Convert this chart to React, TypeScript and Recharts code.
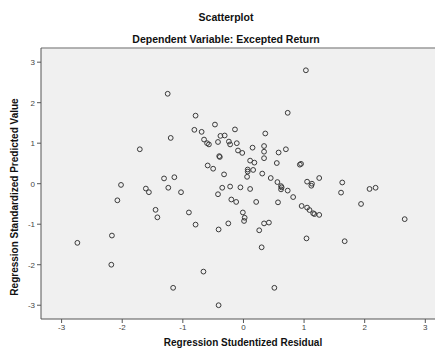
import {
  ScatterChart,
  Scatter,
  XAxis,
  YAxis,
  CartesianGrid,
  ReferenceLine,
} from 'recharts'

// studentized residual (x) and standardized predicted value (y)
const residuals = [
  -1.25, -0.79, -1.2, -1.71, -0.81, -0.69, -0.47, -0.14, -0.38, -0.31,
  -0.65, -0.6, -0.57, -0.42, -0.24, -0.22, -0.11, -0.09, -0.4, -0.39,
  -0.59, -0.5, -0.32, -1.31, -1.14, -2.02, -1.61, -1.56, -1.24, -1.03,
  -0.35, -0.22, -0.42, -0.2, -2.08, -0.05, 1.03, 0.73, 0.36, -0.02,
  0.15, 0.34, 0.34, 0.58, 0.7, 0.34, 0.55, 0.11, 0.18, 0.93,
  0.95, 0.07, 0.07, 0.16, 0.06, 0.31, 0.45, 0.56, 0.62, 0.63,
  0.62, 0.73, 0.82, 1.05, 1.13, 1.12, 1.25, 1.63, 1.61, 2.08,
  2.18, 0.11, -0.12, 0.21, 0.57, 0.96, 1.05, 1.09, 1.15, 1.17,
  1.25, 1.94, 2.66, -0.01, 0.02, 0.01, -0.25, 0.34, 0.42, 0.26,
  0.3, 1.04, 1.67, 0.51, -1.45, -1.42, -0.9, -0.79, -0.41, -2.17,
  -2.74, -2.18, -0.66, -1.16, -0.41,
]
const predicted = [
  2.22, 1.68, 1.13, 0.85, 1.33, 1.28, 1.46, 1.34, 1.18, 1.19,
  1.09, 1.0, 0.97, 1.03, 1.04, 0.97, 1.0, 0.82, 0.68, 0.66,
  0.45, 0.37, 0.23, 0.13, 0.16, -0.03, -0.12, -0.21, -0.1, -0.21,
  -0.1, -0.07, -0.26, -0.39, -0.41, -0.09, 2.8, 1.75, 1.24, 0.76,
  0.89, 0.93, 0.79, 0.77, 0.85, 0.63, 0.51, 0.57, 0.52, 0.47,
  0.49, 0.35, 0.3, 0.34, 0.17, 0.25, 0.14, 0.04, -0.06, -0.09,
  -0.14, -0.17, -0.33, 0.05, 0.0, -0.05, 0.14, 0.03, -0.22, -0.13,
  -0.1, -0.13, -0.45, -0.45, -0.46, -0.55, -0.59, -0.65, -0.73, -0.75,
  -0.77, -0.5, -0.875, -0.71, -0.84, -0.92, -0.98, -0.98, -0.96, -1.15,
  -1.57, -1.35, -1.42, -2.57, -0.645, -0.83, -0.71, -1.01, -1.13, -1.28,
  -1.46, -2.0, -2.17, -2.57, -3.0,
]
const ticks = [-3, -2, -1, 0, 1, 2, 3]

const points = residuals.map((x, i) => ({ x, y: predicted[i] }))

const font = 'Arial, "Liberation Sans", sans-serif'
const tickStyle = { fontSize: 8, fill: '#444', fontFamily: font }

const Ring = (props: any) => (
  <circle cx={props.cx} cy={props.cy} r={2.4} fill="none" stroke="#3a3a3a" strokeWidth={1} />
)

export default function App() {
  return (
    <div style={{ position: 'absolute', left: 0, top: 0, width: 435, height: 349, background: '#fff' }}>
      <ScatterChart width={435} height={349} margin={{ top: 48, right: 0, bottom: 0, left: 0 }}>
        <text x={226} y={21} textAnchor="middle" fontFamily={font} fontSize={10.5} fontWeight="bold" fill="#111">
          Scatterplot
        </text>
        <text x={226} y={43} textAnchor="middle" fontFamily={font} fontSize={10.5} fontWeight="bold" fill="#111">
          Dependent Variable: Excepted Return
        </text>
        <CartesianGrid fill="#f0f0f0" horizontal={false} vertical={false} />
        <ReferenceLine y={3.35} stroke="#9a9a9a" strokeWidth={1.5} />
        <XAxis
          type="number"
          dataKey="x"
          domain={[-3.34, 3.16]}
          ticks={ticks}
          height={30}
          tick={tickStyle}
          tickSize={4}
          tickMargin={1}
          axisLine={{ stroke: '#555' }}
          tickLine={{ stroke: '#555' }}
          label={{
            content: () => (
              <text x={243} y={346} textAnchor="middle" fontFamily={font} fontSize={10} fontWeight="bold" fill="#111">
                Regression Studentized Residual
              </text>
            ),
          }}
        />
        <YAxis
          type="number"
          dataKey="y"
          domain={[-3.34, 3.35]}
          ticks={ticks}
          width={41}
          tick={tickStyle}
          tickSize={4}
          tickMargin={2}
          axisLine={{ stroke: '#555' }}
          tickLine={{ stroke: '#555' }}
          label={{
            content: () => (
              <text
                transform="translate(18,197) rotate(-90)"
                textAnchor="middle"
                fontFamily={font}
                fontSize={10}
                fontWeight="bold"
                fill="#111"
              >
                Regression Standardized Predicted Value
              </text>
            ),
          }}
        />
        <Scatter data={points} shape={Ring} isAnimationActive={false} />
      </ScatterChart>
    </div>
  )
}
